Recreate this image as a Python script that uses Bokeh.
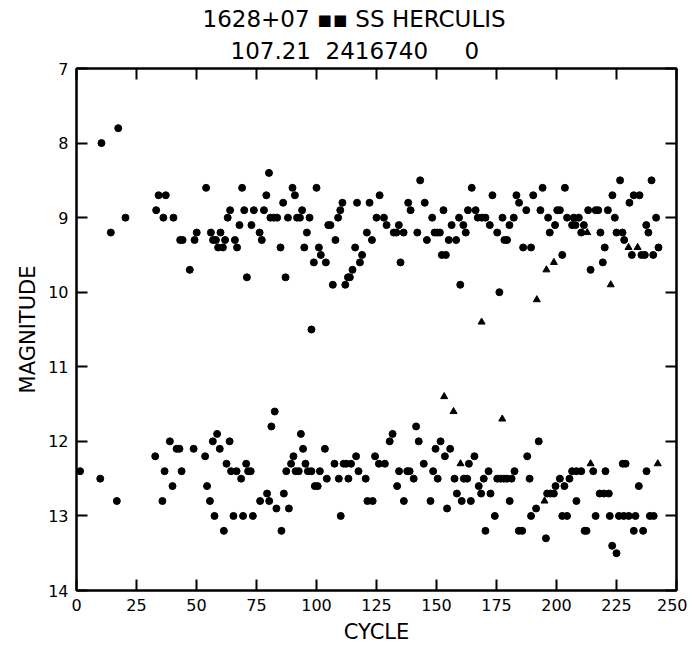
from bokeh.plotting import figure
from bokeh.models import Range1d, FixedTicker, LinearAxis, Title, ColumnDataSource
from bokeh.embed import file_html
from bokeh.resources import INLINE

# ---- data ----
NB = "\u00a0"
title_line1 = "1628+07 \u25aa\u25aa SS HERCULIS"
title_line2 = "107.21" + NB * 2 + "2416740" + NB * 5 + "0"
x_label = "CYCLE"
y_label = "MAGNITUDE"
x_ticks = [0, 25, 50, 75, 100, 125, 150, 175, 200, 225, 250]
y_ticks = [7, 8, 9, 10, 11, 12, 13, 14]

# observed maxima / bright points (filled circles)
bright_cycle = [10.4, 17.4, 14.3, 20.4, 33.2, 34.2, 37.2, 36.2, 40.4, 43.2, 44.2, 47.2, 49.2, 50.1,
                54.0, 56.0, 56.9, 58.1, 59.0, 61.0, 60.0, 61.9, 63.0, 64.0, 66.0, 66.9, 67.9, 69.0,
                69.9, 71.0, 72.9, 73.9, 76.3, 77.2, 78.1, 79.1, 80.2, 80.8, 82.2, 83.6, 85.0, 86.1,
                87.1, 88.1, 90.0, 91.0, 91.9, 93.1, 94.0, 94.9, 96.0, 97.1, 97.9, 98.9, 100.0, 101.0,
                101.8, 103.9, 104.9, 105.8, 106.8, 107.9, 109.0, 109.9, 110.8, 112.0, 113.1, 113.9,
                115.0, 116.1, 116.9, 118.1, 119.0, 121.0, 122.1, 123.1, 125.0, 126.3, 128.1, 129.2,
                132.2, 133.3, 134.3, 135.0, 136.3, 138.2, 139.2, 142.0, 143.2, 145.1, 146.0, 148.2,
                149.2, 150.3, 151.4, 152.2, 153.9, 152.9, 155.1, 158.2, 156.3, 159.4, 159.9, 161.2,
                162.2, 163.1, 164.7, 166.3, 167.2, 168.9, 170.4, 172.2, 173.3, 175.3, 176.2, 177.5,
                178.3, 179.4, 180.4, 182.2, 183.3, 184.4, 186.1, 189.4, 187.4, 190.3, 193.3, 194.2,
                196.5, 197.2, 199.4, 200.3, 201.4, 202.4, 203.5, 204.4, 206.5, 207.9, 207.2, 209.3,
                210.3, 211.4, 214.2, 213.2, 216.3, 217.4, 218.3, 219.3, 220.1, 221.4, 223.3, 224.3,
                225.0, 227.5, 226.5, 228.2, 230.4, 231.4, 232.2, 234.6, 235.4, 236.8, 237.4, 238.3,
                239.6, 240.3, 241.5, 242.5]
bright_mag = [8.0, 7.8, 9.2, 9.0, 8.9, 8.7, 8.7, 9.0, 9.0, 9.3, 9.3, 9.7, 9.3, 9.2,
              8.6, 9.2, 9.3, 9.3, 9.4, 9.4, 9.2, 9.3, 9.0, 8.9, 9.3, 9.4, 9.1, 8.6,
              8.9, 9.8, 9.1, 8.9, 9.2, 9.3, 8.9, 8.7, 8.4, 9.0, 9.0, 9.0, 9.4, 8.8,
              9.8, 9.0, 8.6, 8.7, 9.0, 9.0, 8.9, 9.4, 9.2, 9.0, 10.5, 9.6, 8.6, 9.4,
              9.5, 9.6, 9.1, 9.1, 9.9, 9.3, 9.0, 8.9, 8.8, 9.9, 9.8, 9.8,
              9.7, 9.4, 8.8, 9.6, 9.5, 9.2, 8.8, 9.3, 9.0, 8.7, 9.0, 9.1,
              9.2, 9.2, 9.1, 9.6, 9.2, 8.8, 8.9, 9.2, 8.5, 8.8, 9.3, 9.0,
              9.2, 9.2, 9.2, 9.5, 9.5, 8.9, 9.3, 9.3, 9.1, 9.0, 9.9, 9.1,
              9.2, 8.9, 8.6, 8.9, 9.0, 9.0, 9.0, 9.1, 8.7, 9.2, 10.0, 9.0,
              9.3, 9.3, 9.1, 9.0, 8.7, 8.8, 9.4, 9.4, 8.9, 8.7, 8.9, 8.6,
              9.0, 9.2, 9.1, 8.9, 8.9, 9.5, 8.6, 9.0, 9.1, 9.1, 9.0, 9.0,
              9.2, 9.1, 9.7, 8.9, 8.9, 8.9, 9.2, 9.6, 9.4, 8.9, 8.7, 9.0,
              9.2, 9.2, 8.5, 9.3, 8.8, 9.5, 8.7, 8.7, 9.5, 9.5, 9.1, 9.2,
              8.5, 9.5, 9.0, 9.4]

# minima / faint points (filled circles)
faint_cycle = [1.5, 9.9, 16.8, 32.8, 35.8, 36.7, 38.9, 40.0, 41.7, 42.9, 43.8, 48.8, 53.6, 54.4,
               55.6, 56.8, 57.5, 58.6, 59.7, 61.4, 62.5, 63.8, 64.4, 66.7, 65.4, 68.6, 69.4, 70.7,
               71.5, 72.6, 73.5, 76.5, 79.4, 80.3, 81.2, 82.6, 83.3, 85.4, 86.4, 87.4, 88.5, 89.4,
               90.4, 91.3, 92.6, 93.5, 94.4, 95.4, 96.4, 97.9, 99.3, 100.5, 101.4, 103.5, 104.3,
               107.5, 109.3, 110.1, 111.3, 112.4, 114.4, 113.3, 116.5, 117.5, 120.5, 121.2, 123.4,
               124.4, 126.0, 128.5, 130.5, 131.7, 133.6, 134.4, 137.8, 138.8, 136.4, 140.5, 141.5,
               142.6, 144.7, 147.5, 148.6, 149.6, 150.5, 151.7, 153.5, 154.4, 155.7, 157.5, 158.5,
               160.5, 161.4, 162.8, 163.5, 164.3, 165.8, 167.6, 168.6, 169.7, 170.4, 171.7, 172.5,
               174.3, 175.3, 176.7, 178.1, 179.4, 181.3, 180.5, 182.5, 184.3, 185.7, 187.8, 188.8,
               189.4, 191.5, 192.6, 195.6, 196.1, 197.5, 198.9, 199.6, 201.4, 202.4, 204.4, 203.3,
               205.4, 206.5, 208.3, 210.3, 208.3, 211.7, 212.5, 215.3, 216.3, 218.0, 219.7, 221.8,
               220.4, 222.2, 223.2, 225.0, 226.0, 228.0, 230.1, 232.9, 227.6, 228.8, 232.2, 236.1,
               234.3, 237.5, 238.9, 240.5]
faint_mag = [12.4, 12.5, 12.8, 12.2, 12.8, 12.4, 12.0, 12.6, 12.1, 12.1, 12.4, 12.1, 12.2, 12.6,
             12.8, 12.0, 13.0, 11.9, 12.1, 13.2, 12.3, 12.0, 12.4, 12.4, 13.0, 12.5, 13.0, 12.3,
             12.4, 12.4, 13.0, 12.8, 12.7, 12.8, 11.8, 11.6, 12.9, 13.2, 12.7, 12.4, 12.9, 12.3,
             12.2, 12.4, 12.4, 11.9, 12.1, 12.3, 12.4, 12.4, 12.6, 12.6, 12.4, 12.1, 12.5,
             12.3, 12.5, 13.0, 12.3, 12.3, 12.3, 12.5, 12.2, 12.4, 12.5, 12.8, 12.8,
             12.2, 12.3, 12.3, 12.0, 11.9, 12.6, 12.4, 12.4, 12.4, 12.8, 12.5, 11.8,
             12.0, 12.3, 12.8, 12.4, 12.1, 12.5, 12.0, 12.2, 12.9, 12.1, 12.5, 12.7,
             12.8, 12.5, 12.5, 12.3, 12.8, 12.2, 12.6, 12.7, 12.5, 13.2, 12.4, 12.7,
             13.0, 12.5, 12.5, 12.5, 12.5, 12.5, 12.8, 12.4, 13.2, 13.2, 12.2, 12.5,
             13.0, 12.9, 12.0, 13.3, 12.7, 12.7, 12.7, 12.6, 12.5, 13.0, 13.0, 12.6,
             12.5, 12.4, 12.4, 12.4, 12.8, 13.2, 13.2, 12.4, 13.0, 12.7, 12.7, 12.7,
             12.4, 13.0, 13.4, 13.5, 13.0, 13.0, 13.0, 13.0, 12.3, 12.3, 13.2, 13.2,
             12.6, 12.4, 13.0, 13.0]

# "fainter than" estimates (arrow symbols)
limit_cycle = [168.8, 191.8, 195.8, 198.9, 212.8, 222.6, 230.0, 233.8,
               153.2, 157.1, 160.0, 177.4, 195.0, 214.2, 242.2]
limit_mag = [10.4, 10.1, 9.7, 9.6, 9.2, 9.9, 9.4, 9.4,
             11.4, 11.6, 12.3, 11.7, 12.8, 12.3, 12.3]

FONT = "DejaVu Sans"

p = figure(width=687, height=647, output_backend="svg", toolbar_location=None,
           x_range=Range1d(0, 250), y_range=Range1d(14, 7),
           min_border_left=76, min_border_right=11, min_border_top=68, min_border_bottom=57)
p.background_fill_color = "white"
p.border_fill_color = "white"
p.outline_line_color = "black"
p.outline_line_width = 2
p.xgrid.visible = False
p.ygrid.visible = False


def style_axis(ax, ticks, show_labels):
    ax.ticker = FixedTicker(ticks=ticks)
    ax.axis_line_width = 2
    ax.axis_line_color = "black"
    ax.major_tick_in = 11
    ax.major_tick_out = 0
    ax.major_tick_line_width = 2
    ax.major_tick_line_color = "black"
    ax.minor_tick_line_color = None
    ax.major_label_text_font = FONT
    if show_labels:
        ax.major_label_text_font_size = "16px"
        ax.major_label_text_color = "black"
    else:
        ax.major_label_text_font_size = "1px"
        ax.major_label_text_color = None
        ax.major_label_standoff = 0


style_axis(p.xaxis[0], x_ticks, True)
style_axis(p.yaxis[0], y_ticks, True)
p.xaxis.major_label_standoff = 8
p.yaxis.major_label_standoff = 8
p.xaxis.axis_label = x_label
p.yaxis.axis_label = y_label
for ax in (p.xaxis[0], p.yaxis[0]):
    ax.axis_label_text_font = FONT
    ax.axis_label_text_font_style = "normal"
    ax.axis_label_text_font_size = "21px"
    ax.axis_label_text_color = "black"
p.xaxis.axis_label_standoff = 6
p.yaxis.axis_label_standoff = 5

top_ax = LinearAxis()
style_axis(top_ax, x_ticks, False)
p.add_layout(top_ax, "above")
right_ax = LinearAxis()
style_axis(right_ax, y_ticks, False)
p.add_layout(right_ax, "right")

src_b = ColumnDataSource(dict(x=bright_cycle, y=bright_mag))
src_f = ColumnDataSource(dict(x=faint_cycle, y=faint_mag))
src_l = ColumnDataSource(dict(x=limit_cycle, y=limit_mag))
p.scatter("x", "y", source=src_b, marker="circle", size=7, color="black")
p.scatter("x", "y", source=src_f, marker="circle", size=7, color="black")
p.scatter("x", "y", source=src_l, marker="triangle", size=7, color="black")

# two-line title: the second line sits nearest the frame
t2 = Title(text=title_line2, align="left", offset=154, standoff=9,
           text_font=FONT, text_font_size="23px", text_font_style="normal", text_color="black")
t1 = Title(text=title_line1, align="left", offset=126, standoff=0,
           text_font=FONT, text_font_size="23px", text_font_style="normal", text_color="black")
p.add_layout(t2, "above")
p.add_layout(t1, "above")

open("out.html", "w").write(file_html(p, INLINE))
